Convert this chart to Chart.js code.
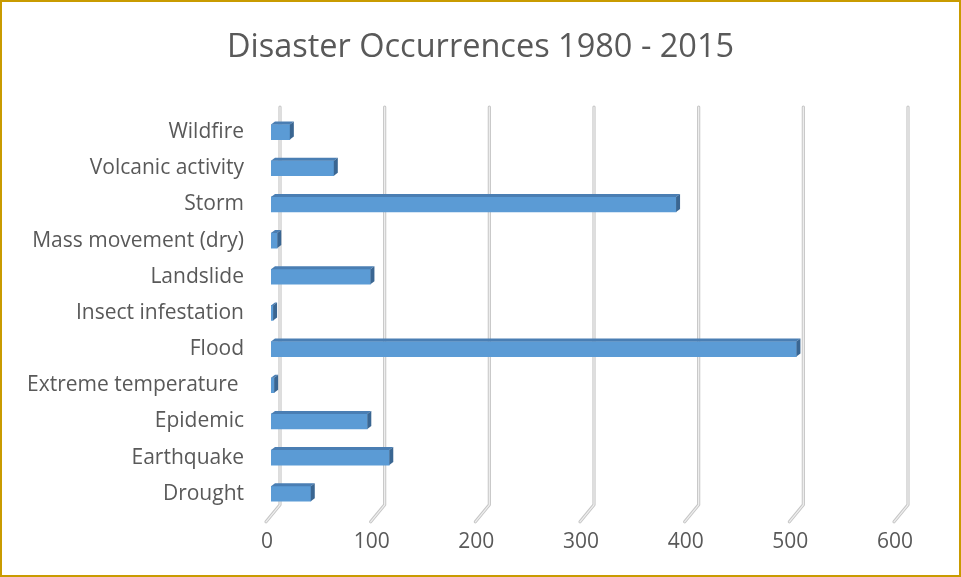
<!DOCTYPE html>
<html>
<head>
<meta charset="utf-8">
<script src="https://cdn.jsdelivr.net/npm/chart.js@4"></script>
<style>
  html, body { margin: 0; padding: 0; background: #fff; }
  #wrap { width: 961px; height: 577px; position: relative; }
</style>
</head>
<body>
<div id="wrap"><canvas id="chart" width="961" height="577"></canvas></div>
<script>
// Disaster types (bottom to top) and number of occurrences, 1980 - 2015
const categories = [
  'Drought', 'Earthquake', 'Epidemic', 'Extreme temperature ', 'Flood',
  'Insect infestation', 'Landslide', 'Mass movement (dry)', 'Storm',
  'Volcanic activity', 'Wildfire'
];
const occurrences = [38, 113, 92, 3, 502, 2, 95, 6, 387, 60, 18];
const axisTicks = [0, 100, 200, 300, 400, 500, 600];

const FONT = '"Open Sans", Lato, sans-serif';
const TEXT = '#595959';

// Page background and gold frame
const framePlugin = {
  id: 'frame',
  beforeDraw(chart) {
    const c = chart.ctx;
    c.save();
    c.fillStyle = '#ffffff';
    c.fillRect(0, 0, chart.width, chart.height);
    c.strokeStyle = '#C99B00';
    c.lineWidth = 2;
    c.strokeRect(1, 1, chart.width - 2, chart.height - 2);
    c.restore();
  }
};

// Back-wall gridlines with a bend onto the floor, giving the 3-D look
const wallGridPlugin = {
  id: 'wallGrid',
  beforeDatasetsDraw(chart) {
    const c = chart.ctx;
    const xs = chart.scales.x;
    const area = chart.chartArea;
    const backDx = 9, backDy = 7, floorDx = 14, floorDy = 17;
    c.save();
    c.lineCap = 'round';
    c.lineJoin = 'round';
    axisTicks.forEach(v => {
      const fx = xs.getPixelForValue(v);
      const bx = fx + backDx;
      const path = () => {
        c.beginPath();
        c.moveTo(bx, area.top - backDy);
        c.lineTo(bx, area.bottom - backDy);
        c.lineTo(bx - floorDx, area.bottom - backDy + floorDy);
      };
      c.strokeStyle = '#c6c6c6';
      c.lineWidth = 3.2;
      path(); c.stroke();
      c.strokeStyle = '#efefef';
      c.lineWidth = 1.2;
      path(); c.stroke();
    });
    c.restore();
  }
};

// Top and end faces of each bar
const barDepthPlugin = {
  id: 'barDepth',
  afterDatasetsDraw(chart) {
    const c = chart.ctx;
    const meta = chart.getDatasetMeta(0);
    const dx = 4, dy = 3;
    c.save();
    meta.data.forEach(bar => {
      const p = bar.getProps(['x', 'y', 'base', 'height'], true);
      const top = p.y - p.height / 2;
      const bottom = p.y + p.height / 2;
      const left = Math.min(p.base, p.x);
      const right = Math.max(p.base, p.x);
      // top face
      c.fillStyle = '#4A7EB3';
      c.beginPath();
      c.moveTo(left, top);
      c.lineTo(left + dx, top - dy);
      c.lineTo(right + dx, top - dy);
      c.lineTo(right, top);
      c.closePath();
      c.fill();
      // end face
      c.fillStyle = '#3A6692';
      c.beginPath();
      c.moveTo(right, top);
      c.lineTo(right + dx, top - dy);
      c.lineTo(right + dx, bottom - dy);
      c.lineTo(right, bottom);
      c.closePath();
      c.fill();
    });
    c.restore();
  }
};

new Chart(document.getElementById('chart'), {
  type: 'bar',
  data: {
    labels: categories,
    datasets: [{
      data: occurrences,
      backgroundColor: '#5B9BD5',
      borderWidth: 0,
      barThickness: 15,
      categoryPercentage: 1,
      barPercentage: 1
    }]
  },
  options: {
    indexAxis: 'y',
    responsive: false,
    animation: false,
    layout: { padding: { top: 8, right: 0, bottom: 4, left: 0 } },
    plugins: {
      legend: { display: false },
      tooltip: { enabled: false },
      title: {
        display: true,
        text: 'Disaster Occurrences 1980 - 2015',
        color: TEXT,
        font: { family: FONT, size: 32.5, weight: 'normal' },
        padding: { top: 20, bottom: 47 }
      }
    },
    scales: {
      x: {
        min: 0,
        max: 600,
        afterBuildTicks(scale) { scale.ticks = axisTicks.map(v => ({ value: v })); },
        grid: { display: false, drawTicks: false },
        border: { display: false },
        ticks: {
          color: TEXT,
          font: { family: FONT, size: 21 },
          padding: 18,
          labelOffset: -4
        }
      },
      y: {
        reverse: true,
        afterFit(scale) { scale.width = 271; },
        grid: { display: false, drawTicks: false },
        border: { display: false },
        ticks: {
          color: TEXT,
          font: { family: FONT, size: 21 },
          padding: 27
        }
      },
      // empty right-hand margin band beside the plot
      yRight: {
        type: 'category',
        position: 'right',
        afterFit(scale) { scale.width = 62; },
        grid: { display: false, drawTicks: false },
        border: { display: false },
        ticks: { display: false }
      }
    }
  },
  plugins: [framePlugin, wallGridPlugin, barDepthPlugin]
});
</script>
</body>
</html>
